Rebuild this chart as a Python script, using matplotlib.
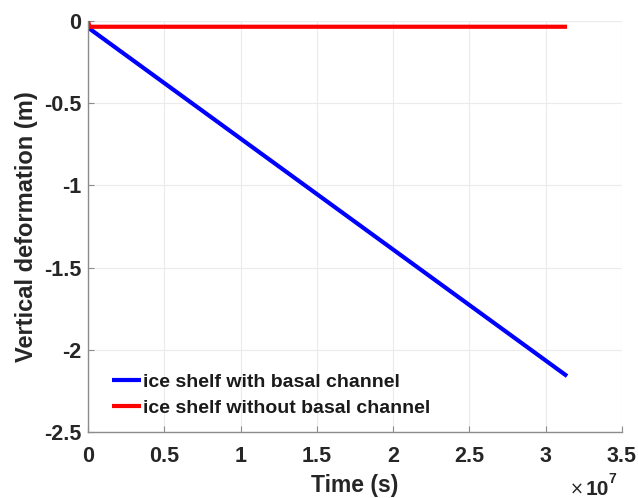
import matplotlib
matplotlib.use("Agg")
import matplotlib.pyplot as plt
from matplotlib.ticker import FixedLocator

plt.rcParams['font.family'] = ['Liberation Sans', 'DejaVu Sans']

# Time in seconds (one year of simulation)
t_with = [0.0, 3.14e7]
def_with = [-0.04, -2.16]

t_without = [0.0, 1.0e5, 3.14e7]
def_without = [0.0, -0.035, -0.035]

label_with = "ice shelf with basal channel"
label_without = "ice shelf without basal channel"

xticks = [0, 0.5e7, 1e7, 1.5e7, 2e7, 2.5e7, 3e7, 3.5e7]
xticklabels = ["0", "0.5", "1", "1.5", "2", "2.5", "3", "3.5"]
yticks = [0, -0.5, -1, -1.5, -2, -2.5]
yticklabels = ["0", "-0.5", "-1", "-1.5", "-2", "-2.5"]

text_col = (0.15, 0.15, 0.15)
axis_col = (0.55, 0.55, 0.55)

fig = plt.figure(figsize=(6.38, 4.98), dpi=100)
ax = fig.add_axes([88/638, 1 - 432/498, (622-88)/638, (432-21)/498])

ax.plot(t_with, def_with, color=(0, 0, 1), lw=3, label=label_with, solid_capstyle='butt')
ax.plot(t_without, def_without, color=(1, 0, 0), lw=3, label=label_without, solid_capstyle='butt')

ax.set_xlim(0, 3.5e7)
ax.set_ylim(-2.5, 0)
ax.xaxis.set_major_locator(FixedLocator(xticks))
ax.set_xticklabels(xticklabels)
ax.yaxis.set_major_locator(FixedLocator(yticks))
ax.set_yticklabels(yticklabels)

ax.grid(True, color=(0.92, 0.92, 0.92), lw=0.8)
ax.set_axisbelow(True)
for s in ['top', 'right']:
    ax.spines[s].set_visible(False)
for s in ['left', 'bottom']:
    ax.spines[s].set_color(axis_col)
    ax.spines[s].set_linewidth(1.0)

ax.tick_params(axis='both', direction='in', length=4, color=axis_col,
               labelsize=15.5, labelcolor=text_col)
ax.tick_params(axis='x', pad=10)
ax.tick_params(axis='y', pad=5)
for lbl in ax.get_xticklabels() + ax.get_yticklabels():
    lbl.set_fontweight('bold')

ax.set_xlabel("Time (s)", fontsize=16.5, fontweight='bold', color=text_col, labelpad=5)
ax.set_ylabel("Vertical deformation (m)", fontsize=17, fontweight='bold', color=text_col, labelpad=4)

# axis exponent
fig.text(584/638, 1 - 490/498, "\u00d7", fontsize=12, family='DejaVu Sans',
         color=text_col, ha='right', va='center')
fig.text(586/638, 1 - 489/498, "10", fontsize=15, fontweight='bold',
         color=text_col, ha='left', va='center')
fig.text(608/638, 1 - 479/498, "7", fontsize=10, fontweight='bold',
         color=text_col, ha='left', va='center')

leg = ax.legend(loc='lower left', bbox_to_anchor=(0.03, 0.018), frameon=False,
                prop={'weight': 'bold', 'size': 14}, handlelength=1.5, handletextpad=0.12,
                labelspacing=0.42, borderaxespad=0.0)
for txt in leg.get_texts():
    txt.set_color((0.1, 0.1, 0.1))

fig.savefig("out.png", dpi=100)
